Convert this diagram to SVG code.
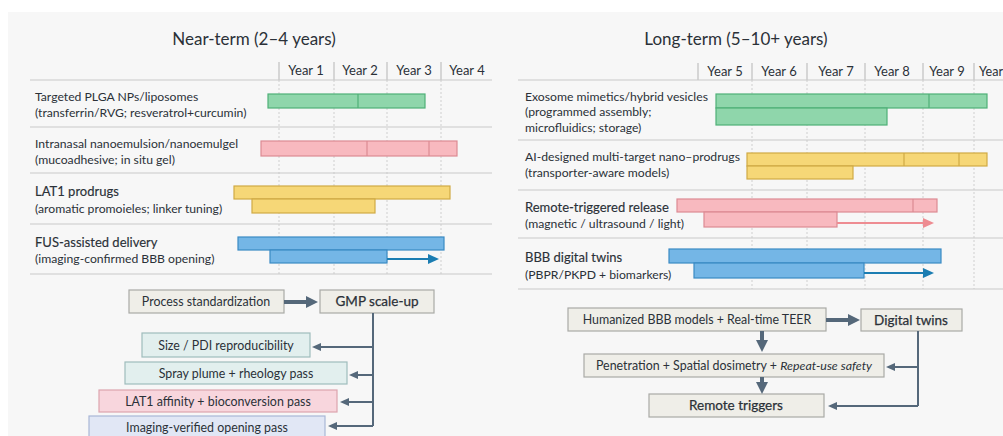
<svg xmlns="http://www.w3.org/2000/svg" width="1003" height="436" viewBox="0 0 1003 436">
<style>
text{font-family:Lato,"Liberation Sans",sans-serif;fill:#2b3138}
.title{font-size:17px}
.yr{font-size:13px;text-anchor:middle}
.lbl{font-size:12.2px}
.hd{font-size:13px;stroke:#2b3138;stroke-width:0.15}
.fb{font-size:12.4px;text-anchor:middle}
.fbb{font-size:13.5px;text-anchor:middle;stroke:#2b3138;stroke-width:0.25}
.grid{stroke:#c9c9c9;stroke-width:1.2}
.dot{stroke:#cfcfcf;stroke-width:1;stroke-dasharray:2 2}
.vs{stroke:#b5b5b5;stroke-width:1}
.g{fill:#8fd6ab;stroke:#4fb077;stroke-width:1.2}
.p{fill:#f8b9bf;stroke:#dc8a93;stroke-width:1.2}
.y{fill:#f6d777;stroke:#d0aa45;stroke-width:1.2}
.b{fill:#74b6e6;stroke:#3a8ac4;stroke-width:1.2}
.box{fill:#efeee8;stroke:#a9aaa6;stroke-width:1.2}
.teal{fill:#e2efee;stroke:#9fbcbc;stroke-width:1.2}
.pink{fill:#f8d6dd;stroke:#dca4ae;stroke-width:1.2}
.lblue{fill:#e1e7f5;stroke:#a9b7d6;stroke-width:1.2}
.thick{stroke:#55687a;stroke-width:4;fill:none}
.thin{stroke:#55687a;stroke-width:2;fill:none}
</style>
<defs>
<marker id="ah" markerUnits="userSpaceOnUse" viewBox="0 0 12 12" markerWidth="12" markerHeight="12" refX="2" refY="6" orient="auto"><path d="M0,0 L12,6 L0,12 z" fill="#55687a"/></marker>
<marker id="at" markerUnits="userSpaceOnUse" viewBox="0 0 9 8" markerWidth="9" markerHeight="8" refX="1" refY="4" orient="auto"><path d="M0,0 L9,4 L0,8 z" fill="#55687a"/></marker>
<marker id="abl" markerUnits="userSpaceOnUse" viewBox="0 0 11 10" markerWidth="11" markerHeight="10" refX="1" refY="5" orient="auto"><path d="M0,0 L11,5 L0,10 z" fill="#1b7db2"/></marker>
<marker id="apk" markerUnits="userSpaceOnUse" viewBox="0 0 11 10" markerWidth="11" markerHeight="10" refX="1" refY="5" orient="auto"><path d="M0,0 L11,5 L0,10 z" fill="#ee8c92"/></marker>
</defs>
<rect x="0" y="0" width="1003" height="436" fill="#ffffff"/>
<rect x="8" y="12" width="995" height="424" fill="#f7f7f7"/>

<!-- LEFT PANEL -->
<g id="left-grid">
<text class="title" x="254" y="45" text-anchor="middle">Near-term (2–4 years)</text>
<line class="vs" x1="279" y1="62" x2="279" y2="80"/>
<line class="vs" x1="334" y1="62" x2="334" y2="80"/>
<line class="vs" x1="387" y1="62" x2="387" y2="80"/>
<line class="vs" x1="441" y1="62" x2="441" y2="80"/>
<text class="yr" x="306" y="75">Year 1</text>
<text class="yr" x="360" y="75">Year 2</text>
<text class="yr" x="414" y="75">Year 3</text>
<text class="yr" x="467" y="75">Year 4</text>
<line class="dot" x1="279" y1="80" x2="279" y2="274"/>
<line class="dot" x1="334" y1="80" x2="334" y2="274"/>
<line class="dot" x1="387" y1="80" x2="387" y2="274"/>
<line class="dot" x1="441" y1="80" x2="441" y2="274"/>
<line class="grid" x1="30" y1="80" x2="492" y2="80"/>
<line class="grid" x1="30" y1="127" x2="492" y2="127"/>
<line class="grid" x1="30" y1="173" x2="492" y2="173"/>
<line class="grid" x1="30" y1="224" x2="492" y2="224"/>
<line class="grid" x1="30" y1="274" x2="492" y2="274"/>
</g>
<g id="row-plga">
<text class="lbl" x="35" y="101">Targeted PLGA NPs/liposomes</text>
<text class="lbl" x="35" y="117">(transferrin/RVG; resveratrol+curcumin)</text>
<rect class="g" x="268" y="94" width="157" height="14"/>
<line x1="358" y1="94" x2="358" y2="108" stroke="#4fb077" stroke-width="1.2"/>
</g>
<g id="row-intranasal">
<text class="lbl" x="35" y="148">Intranasal nanoemulsion/nanoemulgel</text>
<text class="lbl" x="35" y="164">(mucoadhesive; in situ gel)</text>
<rect class="p" x="261" y="141" width="196" height="15"/>
<line x1="367" y1="141" x2="367" y2="156" stroke="#dc8a93" stroke-width="1.2"/>
<line x1="429" y1="141" x2="429" y2="156" stroke="#dc8a93" stroke-width="1.2"/>
</g>
<g id="row-lat1">
<text class="hd" x="35" y="196">LAT1 prodrugs</text>
<text class="lbl" x="35" y="213">(aromatic promoieles; linker tuning)</text>
<rect class="y" x="234" y="186" width="216" height="13"/>
<rect class="y" x="252" y="199" width="123" height="14"/>
</g>
<g id="row-fus">
<text class="hd" x="35" y="247">FUS-assisted delivery</text>
<text class="lbl" x="35" y="263">(imaging-confirmed BBB opening)</text>
<rect class="b" x="238" y="237" width="206" height="13"/>
<rect class="b" x="270" y="250" width="117" height="13"/>
<line x1="387" y1="259" x2="429" y2="259" stroke="#1b7db2" stroke-width="2" marker-end="url(#abl)"/>
</g>

<!-- LEFT FLOW -->
<g id="n-process"><rect class="box" x="129" y="290" width="155" height="23"/><text class="fb" x="206" y="306">Process standardization</text></g>
<g id="n-gmp"><rect class="box" x="320" y="290" width="114" height="23"/><text class="fbb" x="377" y="306">GMP scale-up</text></g>
<g id="n-size"><rect class="teal" x="142" y="333" width="168" height="24"/><text class="fb" x="226" y="350">Size / PDI reproducibility</text></g>
<g id="n-spray"><rect class="teal" x="125" y="362" width="222" height="22"/><text class="fb" x="236" y="378">Spray plume + rheology pass</text></g>
<g id="n-lat1"><rect class="pink" x="99" y="390" width="238" height="22"/><text class="fb" x="218" y="406">LAT1 affinity + bioconversion pass</text></g>
<g id="n-imaging"><rect class="lblue" x="89" y="416" width="236" height="24"/><text class="fb" x="207" y="432">Imaging-verified opening pass</text></g>

<!-- RIGHT PANEL -->
<g id="right-grid">
<text class="title" x="736" y="45" text-anchor="middle">Long-term (5–10+ years)</text>
<line class="vs" x1="698" y1="63" x2="698" y2="80"/>
<line class="vs" x1="752" y1="63" x2="752" y2="80"/>
<line class="vs" x1="807" y1="63" x2="807" y2="80"/>
<line class="vs" x1="865" y1="63" x2="865" y2="80"/>
<line class="vs" x1="923" y1="63" x2="923" y2="80"/>
<line class="vs" x1="974" y1="63" x2="974" y2="80"/>
<text class="yr" x="725" y="76">Year 5</text>
<text class="yr" x="779" y="76">Year 6</text>
<text class="yr" x="836" y="76">Year 7</text>
<text class="yr" x="892" y="76">Year 8</text>
<text class="yr" x="947" y="76">Year 9</text>
<text x="979" y="76" font-size="12.6">Year</text>
<line class="dot" x1="752" y1="80" x2="752" y2="289"/>
<line class="dot" x1="807" y1="80" x2="807" y2="289"/>
<line class="dot" x1="865" y1="80" x2="865" y2="289"/>
<line class="dot" x1="923" y1="80" x2="923" y2="289"/>
<line class="dot" x1="974" y1="80" x2="974" y2="289"/>
<line class="grid" x1="518" y1="80" x2="1003" y2="80"/>
<line class="grid" x1="518" y1="140" x2="1003" y2="140"/>
<line class="grid" x1="518" y1="190" x2="1003" y2="190"/>
<line class="grid" x1="518" y1="238" x2="1003" y2="238"/>
<line class="grid" x1="518" y1="289" x2="1003" y2="289"/>
</g>
<g id="row-exosome">
<text class="lbl" x="525" y="101">Exosome mimetics/hybrid vesicles</text>
<text class="lbl" x="525" y="116">(programmed assembly;</text>
<text class="lbl" x="525" y="132">microfluidics; storage)</text>
<rect class="g" x="716" y="94" width="271" height="14"/>
<line x1="929" y1="94" x2="929" y2="108" stroke="#4fb077" stroke-width="1.2"/>
<rect class="g" x="716" y="108" width="171" height="17"/>
</g>
<g id="row-ai">
<text class="lbl" x="525" y="161">AI-designed multi-target nano–prodrugs</text>
<text class="lbl" x="525" y="177">(transporter-aware models)</text>
<rect class="y" x="747" y="153" width="240" height="13"/>
<line x1="904" y1="153" x2="904" y2="166" stroke="#d0aa45" stroke-width="1.2"/>
<line x1="959" y1="153" x2="959" y2="166" stroke="#d0aa45" stroke-width="1.2"/>
<rect class="y" x="747" y="166" width="106" height="13"/>
</g>
<g id="row-remote">
<text class="hd" x="525" y="212">Remote-triggered release</text>
<text class="lbl" x="525" y="228">(magnetic / ultrasound / light)</text>
<rect class="p" x="677" y="199" width="260" height="13"/>
<line x1="913" y1="199" x2="913" y2="212" stroke="#dc8a93" stroke-width="1.2"/>
<rect class="p" x="704" y="212" width="133" height="15"/>
<line x1="837" y1="223" x2="924" y2="223" stroke="#ee8c92" stroke-width="2" marker-end="url(#apk)"/>
</g>
<g id="row-twins">
<text class="hd" x="525" y="262">BBB digital twins</text>
<text class="lbl" x="525" y="279">(PBPR/PKPD + biomarkers)</text>
<rect class="b" x="669" y="249" width="272" height="14"/>
<rect class="b" x="694" y="263" width="170" height="15"/>
<line x1="864" y1="273" x2="924" y2="273" stroke="#1b7db2" stroke-width="2" marker-end="url(#abl)"/>
</g>

<!-- RIGHT FLOW -->
<g id="n-humanized"><rect class="box" x="568" y="308" width="258" height="23"/><text class="fb" x="697" y="324">Humanized BBB models  + Real-time TEER</text></g>
<g id="n-digital"><rect class="box" x="861" y="309" width="101" height="22"/><text class="fbb" x="911" y="325">Digital twins</text></g>
<g id="n-penetration"><rect class="box" x="584" y="354" width="300" height="23"/><text class="fb" x="734" y="370">Penetration + Spatial dosimetry + <tspan font-style="italic">Repeat-use safety</tspan></text></g>
<g id="n-remote"><rect class="box" x="649" y="394" width="175" height="23"/><text class="fbb" x="736" y="410">Remote triggers</text></g>

<g id="connectors">
<line class="thick" x1="284" y1="302" x2="308" y2="302" marker-end="url(#ah)"/>
<polyline class="thin" points="373,313 373,426"/>
<line class="thin" x1="373" y1="347" x2="320" y2="347" marker-end="url(#at)"/>
<line class="thin" x1="373" y1="375" x2="357" y2="375" marker-end="url(#at)"/>
<line class="thin" x1="373" y1="402" x2="348" y2="402" marker-end="url(#at)"/>
<line class="thin" x1="373" y1="426" x2="336" y2="426" marker-end="url(#at)"/>
<line class="thick" x1="826" y1="320" x2="850" y2="320" marker-end="url(#ah)"/>
<line class="thick" x1="762" y1="331" x2="762" y2="342" marker-end="url(#ah)"/>
<line class="thick" x1="762" y1="377" x2="762" y2="384" marker-end="url(#ah)"/>
<polyline class="thin" points="918,331 918,406"/>
<line class="thin" x1="918" y1="367" x2="894" y2="367" marker-end="url(#at)"/>
<line class="thin" x1="918" y1="406" x2="836" y2="406" marker-end="url(#at)"/>
</g>
</svg>
